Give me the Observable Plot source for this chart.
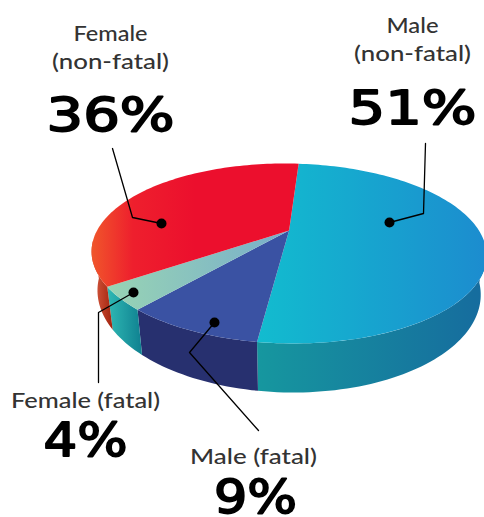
<!DOCTYPE html>
<html>
<head>
<meta charset="utf-8">
<script src="https://cdn.jsdelivr.net/npm/d3@7"></script>
<script src="https://cdn.jsdelivr.net/npm/@observablehq/plot@0.6"></script>
<style>html,body{margin:0;padding:0;background:#fff}svg{display:block}</style>
</head>
<body>
<div id="chart"></div>
<script>
// Data
const categories = ["Male (non-fatal)", "Male (fatal)", "Female (fatal)", "Female (non-fatal)"];
const shares = [51, 9, 4, 36];

// Label text
const labelLines = ["Female", "(non-fatal)", "Male", "(non-fatal)", "Female (fatal)", "Male (fatal)"];
const labelX = [110, 110, 412, 412, 85, 253];
const labelY = [40, 68, 32, 60, 407, 463];
const labelW = [74, 117, 52, 117, 149, 127];
const pctOrder = [3, 0, 2, 1];
const pctX = [110, 412, 85, 255];
const pctY = [130, 123, 455, 512];
const pctW = [128, 128, 84, 83];

// Leader lines: one polyline per category
const leaderX = [[389, 423, 425], [214, 189, 258], [133, 98, 98], [161, 132, 112]];
const leaderY = [[222, 213, 143], [322, 352, 430], [292, 312, 382], [223, 217, 148]];

// Disc projection
const startAngle = 3.6, apexX = 288.6, apexY = 230, spreadX = 191, spreadY = 25.3, persp = -0.2556, tilt = 0.01;
const rad = (d) => d * Math.PI / 180;
const top3d = (t) => {
  const u = Math.sin(rad(t)), v = -Math.cos(rad(t)), w = 1 + persp * v;
  const x = apexX + spreadX * u / w;
  return [x, (spreadY * v + apexY) / w + tilt * (x - apexX)];
};
const base3d = (t) => {
  const [x, y] = top3d(t);
  return [apexX + 0.97 * (x - apexX), y + 41 + 0.11 * (y - 270)];
};
const range = (a, b) => {
  const n = Math.max(2, Math.ceil(Math.abs(b - a) / 1.5));
  return d3.range(n + 1).map((i) => a + (b - a) * i / n);
};
const cum = d3.cumsum(shares);
const from = categories.map((_, i) => startAngle + (i ? cum[i - 1] : 0) * 3.6);
const to = categories.map((_, i) => startAngle + cum[i] * 3.6);

const topFace = (i) => [[apexX, apexY], ...range(from[i], to[i]).map(top3d)];
const wallLo = 98, wallHi = 262;
const wallFace = (i) => {
  const a = Math.max(from[i], wallLo), b = Math.min(to[i], wallHi);
  if (b <= a) return [];
  const r = range(a, b);
  return [...r.map(top3d), ...r.slice().reverse().map(base3d)];
};

const gradients = {
  topMale: [[0, "#12bccf"], [1, "#1c8ccf"]],
  topMaleFatal: [[0, "#3a52a3"], [1, "#3a52a3"]],
  topFemaleFatal: [[0, "#98d4b4"], [1, "#78aecb"]],
  topFemale: [[0, "#f0562b"], [0.2, "#ee1f2d"], [0.5, "#ec0f2d"], [1, "#ec0f2d"]],
  wallMale: [[0, "#16979f"], [1, "#166b9e"]],
  wallMaleFatal: [[0, "#27306f"], [1, "#27306f"]],
  wallFemaleFatal: [[0, "#2fb9b4"], [1, "#0f8090"]],
  wallFemale: [[0, "#d95f45"], [0.6, "#b93a22"], [1, "#a0240f"]]
};
const topIds = ["topMale", "topMaleFatal", "topFemaleFatal", "topFemale"];
const wallIds = ["wallMale", "wallMaleFatal", "wallFemaleFatal", "wallFemale"];

const defs = () => {
  const d = d3.create("svg:defs");
  for (const [id, stops] of Object.entries(gradients)) {
    const g = d.append("linearGradient").attr("id", id);
    for (const [o, c] of stops) g.append("stop").attr("offset", o).attr("stop-color", c);
  }
  return d.node();
};
const face = (pts, id) => Plot.line(pts, {x: (d) => d[0], y: (d) => d[1], fill: `url(#${id})`, stroke: "none"});

const fit = (widths) => (index, scales, values, dims, ctx, next) => {
  const g = next(index, scales, values, dims, ctx);
  g.querySelectorAll("text").forEach((t, k) => {
    t.setAttribute("textLength", widths[index[k]]);
    t.setAttribute("lengthAdjust", "spacingAndGlyphs");
  });
  return g;
};

const dots = leaderX.map((xs, i) => [xs[0], leaderY[i][0]]);
const labelIdx = d3.range(labelLines.length);
const pctIdx = d3.range(pctOrder.length);

const plot = Plot.plot({
  width: 484, height: 517, margin: 0,
  x: {domain: [0, 484], range: [0, 484], axis: null},
  y: {domain: [0, 517], range: [0, 517], axis: null},
  style: {background: "#fff"},
  marks: [
    defs,
    ...categories.map((_, i) => face(wallFace(i), wallIds[i])),
    ...categories.map((_, i) => face(topFace(i), topIds[i])),
    ...leaderX.map((xs, i) => Plot.line(xs.map((x, j) => [x, leaderY[i][j]]), {
      x: (d) => d[0], y: (d) => d[1], stroke: "#000", strokeWidth: 1.3
    })),
    Plot.dot(dots, {x: (d) => d[0], y: (d) => d[1], r: 5, fill: "#000", stroke: "none"}),
    Plot.text(labelIdx, {
      x: (i) => labelX[i], y: (i) => labelY[i], text: (i) => labelLines[i],
      textAnchor: "middle", lineAnchor: "bottom", fontFamily: "Lato", fontSize: 22, fontWeight: 500,
      fill: "#333", render: fit(labelW)
    }),
    Plot.text(pctIdx, {
      x: (i) => pctX[i], y: (i) => pctY[i], text: (i) => `${shares[pctOrder[i]]}%`,
      textAnchor: "middle", lineAnchor: "bottom", fontFamily: "DejaVu Sans", fontSize: 46, fontWeight: 400,
      fill: "#000", stroke: "#000", strokeWidth: 1.8, strokeLinejoin: "round", render: fit(pctW)
    })
  ]
});
document.getElementById("chart").append(plot);
</script>
</body>
</html>
